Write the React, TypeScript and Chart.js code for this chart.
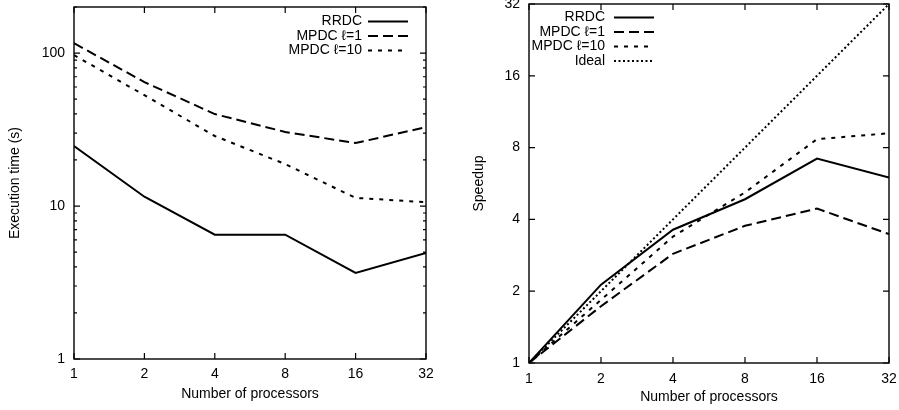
import React, { useEffect, useRef } from "react";
import { Chart, registerables } from "chart.js";

Chart.register(...registerables);

// ---- data ----
const processors = [1, 2, 4, 8, 16, 32];

const timeRRDC = [24.7, 11.5, 6.5, 6.5, 3.65, 4.93];
const timeMPDC1 = [116, 64.6, 39.9, 30.5, 25.8, 32.8];
const timeMPDC10 = [97, 53, 28.7, 18.8, 11.3, 10.6];

const speedupRRDC = [1, 2.13, 3.62, 4.86, 7.2, 5.99];
const speedupMPDC1 = [1, 1.73, 2.87, 3.76, 4.44, 3.47];
const speedupMPDC10 = [1, 1.84, 3.39, 5.19, 8.68, 9.19];
const speedupIdeal = [1, 2, 4, 8, 16, 32];

const timeTicks = [1, 10, 100];
const timeMinorTicks = [2, 3, 4, 5, 6, 7, 8, 9, 20, 30, 40, 50, 60, 70, 80, 90, 200];
const speedupTicks = [1, 2, 4, 8, 16, 32];

const labelRRDC = "RRDC";
const labelMPDC1 = "MPDC \u2113=1";
const labelMPDC10 = "MPDC \u2113=10";
const labelIdeal = "Ideal";

const FONT_FAMILY = '"Liberation Sans", Arial, Helvetica, sans-serif';
const INK = "#000";

const DASH_SOLID: number[] = [];
const DASH_LONG = [10, 5];
const DASH_SHORT = [4, 6];
const DASH_DOT = [2, 2.5];

function pts(ys: number[]) {
  return processors.map((p, i) => ({ x: p, y: ys[i] }));
}

function ds(label: string, ys: number[], dash: number[]) {
  return {
    label,
    data: pts(ys),
    borderColor: INK,
    backgroundColor: INK,
    borderWidth: 2,
    borderDash: dash,
    pointRadius: 0,
    tension: 0,
    fill: false,
  };
}

type Deco = {
  xMajor: number[];
  yMajor: number[];
  yMinor: number[];
  legend: { textRight: number; x1: number; x2: number; y: number; dy: number };
};

function makeFramePlugin(o: Deco) {
  return {
    id: "gnuplotFrame",
    afterDatasetsDraw(chart: any) {
      const { ctx, chartArea: a } = chart;
      const xs = chart.scales.x;
      const ys = chart.scales.y;
      ctx.save();
      ctx.strokeStyle = INK;
      ctx.setLineDash([]);
      ctx.lineWidth = 1.2;
      ctx.beginPath();
      const seg = (x1: number, y1: number, x2: number, y2: number) => {
        ctx.moveTo(x1, y1);
        ctx.lineTo(x2, y2);
      };
      for (const v of o.xMajor) {
        const p = xs.getPixelForValue(v);
        seg(p, a.bottom, p, a.bottom - 6);
        seg(p, a.top, p, a.top + 6);
      }
      for (const v of o.yMajor) {
        const p = ys.getPixelForValue(v);
        seg(a.left, p, a.left + 6, p);
        seg(a.right, p, a.right - 6, p);
      }
      for (const v of o.yMinor) {
        const p = ys.getPixelForValue(v);
        seg(a.left, p, a.left + 3, p);
        seg(a.right, p, a.right - 3, p);
      }
      ctx.stroke();
      ctx.lineWidth = 1.4;
      ctx.strokeRect(a.left, a.top, a.right - a.left, a.bottom - a.top);

      // legend
      const L = o.legend;
      ctx.font = `14px ${FONT_FAMILY}`;
      ctx.textAlign = "right";
      ctx.textBaseline = "middle";
      ctx.fillStyle = INK;
      chart.data.datasets.forEach((d: any, i: number) => {
        const y = L.y + i * L.dy;
        ctx.fillText(d.label, L.textRight, y);
        ctx.setLineDash(d.borderDash || []);
        ctx.lineWidth = d.borderWidth;
        ctx.beginPath();
        ctx.moveTo(L.x1, y);
        ctx.lineTo(L.x2, y);
        ctx.stroke();
      });
      ctx.restore();
    },
  };
}

type PanelSpec = {
  datasets: any[];
  yMin: number;
  yMax: number;
  yTicks: number[];
  yMinor: number[];
  yTitle: string;
  yWidth: number;
  yTitlePad: number;
  yTickPad: number;
  xHeight: number;
  xTickPad: number;
  xTitlePad: number;
  padding: { left: number; top: number; right: number; bottom: number };
  legend: Deco["legend"];
};

function buildConfig(s: PanelSpec): any {
  const font = { family: FONT_FAMILY, size: 14 };
  return {
    type: "line",
    data: { datasets: s.datasets },
    plugins: [
      makeFramePlugin({
        xMajor: processors,
        yMajor: s.yTicks,
        yMinor: s.yMinor,
        legend: s.legend,
      }),
    ],
    options: {
      animation: false,
      responsive: false,
      maintainAspectRatio: false,
      events: [],
      layout: { padding: s.padding },
      plugins: { legend: { display: false }, tooltip: { enabled: false } },
      scales: {
        x: {
          type: "logarithmic",
          min: 1,
          max: 32,
          afterBuildTicks: (sc: any) => {
            sc.ticks = processors.map((v) => ({ value: v }));
          },
          afterFit: (sc: any) => {
            sc.height = s.xHeight;
            sc.paddingLeft = 0;
            sc.paddingRight = 0;
          },
          ticks: {
            autoSkip: false,
            maxRotation: 0,
            minRotation: 0,
            padding: s.xTickPad,
            color: INK,
            font,
            callback: (v: any) => String(v),
          },
          grid: { display: false, drawTicks: false },
          border: { display: false },
          title: {
            display: true,
            text: "Number of processors",
            color: INK,
            font,
            padding: { top: 0, bottom: s.xTitlePad },
          },
        },
        y: {
          type: "logarithmic",
          min: s.yMin,
          max: s.yMax,
          afterBuildTicks: (sc: any) => {
            sc.ticks = s.yTicks.map((v) => ({ value: v }));
          },
          afterFit: (sc: any) => {
            sc.width = s.yWidth;
            sc.paddingTop = 0;
            sc.paddingBottom = 0;
          },
          ticks: {
            autoSkip: false,
            padding: s.yTickPad,
            color: INK,
            font,
            callback: (v: any) => String(v),
          },
          grid: { display: false, drawTicks: false },
          border: { display: false },
          title: {
            display: true,
            text: s.yTitle,
            color: INK,
            font,
            padding: { top: s.yTitlePad, bottom: 0 },
          },
        },
      },
    },
  };
}

function Panel({ spec, left, width }: { spec: PanelSpec; left: number; width: number }) {
  const ref = useRef<HTMLCanvasElement | null>(null);
  useEffect(() => {
    if (!ref.current) return;
    const chart = new Chart(ref.current, buildConfig(spec));
    return () => chart.destroy();
  }, []);
  return (
    <canvas
      ref={ref}
      width={width}
      height={410}
      style={{ position: "absolute", left, top: 0, width, height: 410 }}
    />
  );
}

const timeSpec: PanelSpec = {
  datasets: [
    ds(labelRRDC, timeRRDC, DASH_SOLID),
    ds(labelMPDC1, timeMPDC1, DASH_LONG),
    ds(labelMPDC10, timeMPDC10, DASH_SHORT),
  ],
  yMin: 1,
  yMax: 200,
  yTicks: timeTicks,
  yMinor: timeMinorTicks,
  yTitle: "Execution time (s)",
  yWidth: 74,
  yTitlePad: 7,
  yTickPad: 9,
  xHeight: 51,
  xTickPad: 7,
  xTitlePad: 7,
  padding: { left: 0, top: 7, right: 24, bottom: 0 },
  legend: { textRight: 362, x1: 368, x2: 408, y: 21.5, dy: 14.5 },
};

const speedupSpec: PanelSpec = {
  datasets: [
    ds(labelRRDC, speedupRRDC, DASH_SOLID),
    ds(labelMPDC1, speedupMPDC1, DASH_LONG),
    ds(labelMPDC10, speedupMPDC10, DASH_SHORT),
    ds(labelIdeal, speedupIdeal, DASH_DOT),
  ],
  yMin: 1,
  yMax: 32,
  yTicks: speedupTicks,
  yMinor: [],
  yTitle: "Speedup",
  yWidth: 79,
  yTitlePad: 21,
  yTickPad: 9,
  xHeight: 47,
  xTickPad: 8,
  xTitlePad: 4,
  padding: { left: 0, top: 4, right: 10, bottom: 0 },
  legend: { textRight: 155, x1: 164, x2: 204, y: 17.5, dy: 14.5 },
};

export default function App() {
  return (
    <div
      style={{
        position: "absolute",
        left: 0,
        top: 0,
        width: 899,
        height: 410,
        background: "#fff",
        overflow: "hidden",
      }}
    >
      <Panel spec={timeSpec} left={0} width={450} />
      <Panel spec={speedupSpec} left={450} width={449} />
    </div>
  );
}
